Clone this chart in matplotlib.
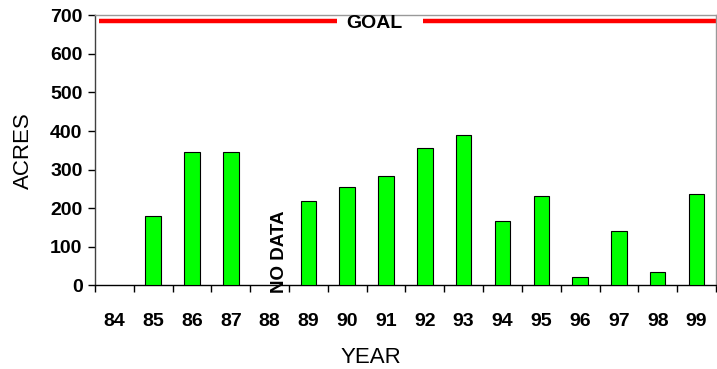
import matplotlib
matplotlib.use("Agg")
import matplotlib.pyplot as plt
import numpy as np

plt.rcParams['font.family'] = ['Liberation Sans', 'DejaVu Sans']

years = ['84', '85', '86', '87', '88', '89', '90', '91', '92', '93', '94', '95', '96', '97', '98', '99']
acres = [0, 180, 345, 345, np.nan, 218, 255, 283, 355, 389, 166, 231, 21, 140, 34, 238]
goal = 685
yticks = [0, 100, 200, 300, 400, 500, 600, 700]

fig = plt.figure(figsize=(7.17, 3.69), dpi=100)
ax = fig.add_axes([0.1325, 0.2268, 0.866, 0.7317])

x = np.arange(len(years))
vals = np.array(acres, dtype=float)
mask = ~np.isnan(vals) & (vals > 0)
ax.bar(x[mask], vals[mask], width=0.4, color='#00ff00', edgecolor='black', linewidth=0.8, zorder=3)

# goal line, interrupted by its label
ax.hlines([goal, goal], [-0.40, 7.95], [5.74, 15.5], colors='red', linewidth=3.2, zorder=2)
ax.text(6.70, goal - 5, 'GOAL', ha='center', va='center', fontsize=14, fontweight='bold', zorder=4)

nd = years.index('88')
ax.text(nd + 0.26, 86, 'NO DATA', rotation=90, ha='center', va='center', fontsize=13.5,
        fontweight='bold', zorder=4, clip_on=False)

ax.set_xlim(-0.5, len(years) - 0.5)
ax.set_ylim(0, 700)
ax.set_yticks(yticks)
ax.set_yticklabels([str(v) for v in yticks], fontsize=14, fontweight='bold')
ax.tick_params(axis='y', length=5, width=1, pad=4, direction='out')

ax.set_xticks(np.arange(len(years) + 1) - 0.5)
ax.set_xticklabels([])
ax.tick_params(axis='x', which='major', length=5, width=1, direction='out')
ax.set_xticks(x, minor=True)
ax.set_xticklabels(years, minor=True, fontsize=14, fontweight='bold')
ax.tick_params(axis='x', which='minor', length=0, pad=20)

ax.set_ylabel('ACRES', fontsize=16)
ax.set_xlabel('YEAR', fontsize=16)
ax.yaxis.set_label_coords(-0.116, 0.497)
ax.yaxis.label.set_va('center')
ax.xaxis.set_label_coords(0.4436, -0.268)
ax.xaxis.label.set_va('center')

ax.spines['left'].set_color('#404040')
ax.spines['bottom'].set_color('black')
ax.spines['top'].set_color('#999999')
ax.spines['right'].set_color('#999999')
for s in ax.spines.values():
    s.set_linewidth(1)

fig.savefig('out.png', dpi=100)
